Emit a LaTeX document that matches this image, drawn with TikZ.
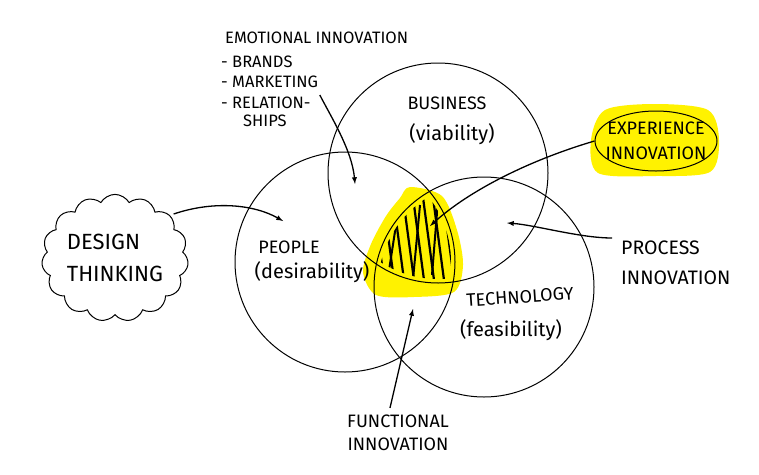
\documentclass[tikz,border=0pt]{standalone}
\usepackage{fontspec}
\setmainfont{Fira Sans}
\usetikzlibrary{arrows,shapes,positioning}

\begin{document}
\begin{tikzpicture}[x=1pt,y=-1pt,
    circulo/.style={circle,draw,line width=1pt,minimum size=220pt,inner sep=0pt},
    flecha/.style={-latex,line width=1.3pt},
    texto/.style={font=\fontsize{18}{23}\selectfont,align=center,inner sep=1pt},
    parentesis/.style={font=\fontsize{20}{23}\selectfont,inner sep=1pt},
    lista/.style={font=\fontsize{16.5}{18}\selectfont,anchor=west,inner sep=1pt}]
    \useasboundingbox (0,0) rectangle (759,474);
    % zonas resaltadas en amarillo
    \fill[yellow] plot[smooth cycle] coordinates {(410,187) (442,196) (457,230) (463,265) (454,292) (414,297) (376,295) (363,272) (371,244) (386,216) (400,198)};
    \fill[yellow] plot[smooth cycle] coordinates {(605,110) (655,104) (708,110) (719,140) (710,172) (655,176) (598,173) (591,140)};

    % los tres circulos
    \node[circulo] (business) at (438,173) {};
    \node[circulo] (people) at (345,262) {};
    \node[circulo] (technology) at (484,287) {};

    % rayado de la interseccion
    \begin{scope}
        \clip (business.center) circle[radius=106pt];
        \clip (people.center) circle[radius=106pt];
        \clip (technology.center) circle[radius=106pt];
        \foreach \x in {372,382,...,452} {
            \draw[line width=2.2pt,line cap=round] (\x,190) -- (\x+14,295);
        }
        \draw[line width=2pt,line join=round] (386,290) -- (396,225) (412,290) -- (420,205) (432,275) -- (438,200);
    \end{scope}

    \node[texto] (businesslabel) at (447,103) {BUSINESS};
    \node[parentesis] (viability) at (452,134) {(viability)};
    \node[texto] (peoplelabel) at (289,247) {PEOPLE};
    \node[parentesis] (desirability) at (312,272) {(desirability)};
    \node[texto,rotate=4] (technologylabel) at (520,297) {TECHNOLOGY};
    \node[parentesis] (feasibility) at (511,330) {(feasibility)};

    \node[cloud,draw,line width=1pt,cloud puffs=15,cloud puff arc=120,aspect=1.2,
          minimum width=126pt,minimum height=106pt,inner sep=0pt,
          font=\fontsize{22}{32}\selectfont,align=left] (design) at (115,258) {DESIGN\\THINKING};

    \node[ellipse,draw,line width=1pt,minimum width=122pt,minimum height=60pt,inner sep=0pt] (experience) at (656,141) {};
    \node[texto,font=\fontsize{18}{25}\selectfont] (experiencetext) at (experience) {EXPERIENCE\\INNOVATION};

    \node[texto,align=left,anchor=north west,font=\fontsize{19.5}{30}\selectfont] (process) at (620,240) {PROCESS\\INNOVATION};
    \node[texto] (functional) at (398,433) {FUNCTIONAL\\INNOVATION};

    \node[lista] (emotional) at (224,38) {EMOTIONAL INNOVATION};
    \node[lista] (brands) at (220,62) {- BRANDS};
    \node[lista] (marketing) at (220,82) {- MARKETING};
    \node[lista] (relation) at (220,103) {- RELATION-};
    \node[lista] (ships) at (242,121) {SHIPS};

    % flechas
    \coordinate (emotip) at (355,184);
    \coordinate (designtip) at (283,221);
    \coordinate (experiencetip) at (430,226);
    \coordinate (processtip) at (507,223);
    \coordinate (functionaltip) at (413,309);
    \draw[flecha] ([shift={(8,-8)}]relation.east) .. controls (330,115) and (352,150) .. (emotip);
    \draw[flecha] ([shift={(-14,-44)}]design.east) .. controls (215,200) and (255,205) .. (designtip);
    \draw[flecha] (experience.west) .. controls (530,160) and (470,190) .. (experiencetip);
    \draw[flecha] ([shift={(-8,-2)}]process.north west) .. controls (580,238) and (535,225) .. (processtip);
    \draw[flecha] ([shift={(-8,-6)}]functional.north) -- (functionaltip);
\end{tikzpicture}
\end{document}
